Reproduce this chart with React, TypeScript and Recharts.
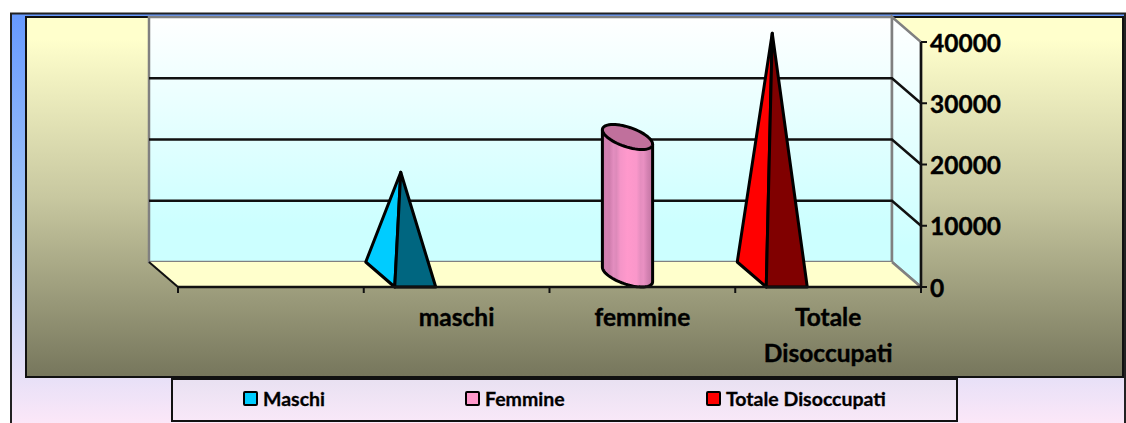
import { Bar, BarChart, CartesianGrid, Legend, XAxis, YAxis } from "recharts";

const categories = ["", "maschi", "femmine", "Totale Disoccupati"];
const maschiValues = [null, 16700, null, null];
const femmineValues = [null, null, 22450, null];
const totaleValues = [null, null, null, 39400];
const yTicks = [0, 10000, 20000, 30000, 40000];

const data = categories.map((name, i) => ({
  name,
  maschi: maschiValues[i],
  femmine: femmineValues[i],
  totale: totaleValues[i],
}));

const WIDTH = 1126;
const HEIGHT = 423;
const LEFT = 178;
const RIGHT = 921;
const TOP = 42;
const BOTTOM = 287;
// depth of the fake 3d box
const DX = 29;
const DY = 25;
const BAND = (RIGHT - LEFT) / categories.length;
const FONT = "Lato, 'Noto Sans', sans-serif";
const legendLefts = [70, 292, 533];

function Backdrop() {
  return (
    <svg width={WIDTH} height={HEIGHT} style={{ position: "absolute", left: 0, top: 0 }}>
      <defs>
        <linearGradient id="frameFill" x1="0" y1="0" x2="0" y2="1">
          <stop offset="0" stopColor="#6699ff" />
          <stop offset="0.5" stopColor="#a6c8f6" />
          <stop offset="0.96" stopColor="#fde8f8" />
        </linearGradient>
        <linearGradient id="panelFill" x1="0" y1="0" x2="0" y2="1">
          <stop offset="0.06" stopColor="#ffffcc" />
          <stop offset="0.5" stopColor="#c8c8a0" />
          <stop offset="1" stopColor="#76765c" />
        </linearGradient>
        <linearGradient id="wallFill" x1="0" y1="0" x2="0" y2="1">
          <stop offset="0" stopColor="#ffffff" />
          <stop offset="0.85" stopColor="#ccffff" />
        </linearGradient>
      </defs>
      <rect x={11} y={13.5} width={1114} height={430} fill="url(#frameFill)" stroke="#222" strokeWidth={2} />
      <rect x={26} y={17} width={1097} height={360} fill="url(#panelFill)" stroke="#111" strokeWidth={2} />
      <rect x={LEFT - DX} y={TOP - DY} width={RIGHT - LEFT} height={BOTTOM - TOP} fill="url(#wallFill)" stroke="#808080" strokeWidth={2.5} />
      <polygon
        points={`${RIGHT - DX},${TOP - DY} ${RIGHT},${TOP} ${RIGHT},${BOTTOM} ${RIGHT - DX},${BOTTOM - DY}`}
        fill="url(#wallFill)"
        stroke="#808080"
        strokeWidth={2.5}
      />
      <polygon
        points={`${LEFT - DX},${BOTTOM - DY} ${RIGHT - DX},${BOTTOM - DY} ${RIGHT},${BOTTOM} ${LEFT},${BOTTOM}`}
        fill="#ffffcc"
      />
      <line x1={RIGHT - DX} y1={BOTTOM - DY} x2={RIGHT} y2={BOTTOM} stroke="#808080" strokeWidth={2.5} />
      <line x1={LEFT - DX} y1={BOTTOM - DY} x2={LEFT} y2={BOTTOM} stroke="#111" strokeWidth={2} />
    </svg>
  );
}

function WallLine(props: any) {
  const { x1, x2, y1 } = props;
  if (Math.abs(y1 - TOP) < 1 || Math.abs(y1 - BOTTOM) < 1) return <g />;
  return (
    <polyline
      points={`${x1 - DX},${y1 - DY} ${x2 - DX},${y1 - DY} ${x2},${y1}`}
      fill="none"
      stroke="#111"
      strokeWidth={2.5}
    />
  );
}

function Pyramid(props: any) {
  const { x, y, width, height, fill, dark, shift } = props;
  if (!height) return null;
  const left = x + shift;
  const right = left + width;
  const apexX = left + width / 2 - DX / 2;
  const apexY = y - DY / 2;
  const base = y + height;
  return (
    <g stroke="#000" strokeWidth={3} strokeLinejoin="round">
      <polygon points={`${left - DX},${base - DY} ${left},${base} ${apexX},${apexY}`} fill={fill} />
      <polygon points={`${left},${base} ${right},${base} ${apexX},${apexY}`} fill={dark} />
    </g>
  );
}

function Cylinder(props: any) {
  const { x, y, width, height } = props;
  if (!height) return null;
  const ux = width / 2;
  const vx = DX / 2;
  const vy = DY / 2;
  const cx = x + width / 2 - DX / 2;
  const base = y + height - DY / 2;
  const top = y - DY / 2;
  // silhouette of the sheared circle: x extreme is at atan2(vx, ux)
  const t0 = Math.atan2(vx, ux);
  const pts: string[] = [];
  for (let i = 0; i <= 40; i++) {
    const t = t0 + (i / 40) * Math.PI;
    pts.push(`${cx + ux * Math.cos(t) + vx * Math.sin(t)},${base + vy * Math.sin(t)}`);
  }
  const rim: string[] = [];
  for (let i = 0; i < 60; i++) {
    const t = (i / 60) * 2 * Math.PI;
    rim.push(`${cx + ux * Math.cos(t) + vx * Math.sin(t)},${top + vy * Math.sin(t)}`);
  }
  const xr = cx + ux * Math.cos(t0) + vx * Math.sin(t0);
  const yr = vy * Math.sin(t0);
  return (
    <g stroke="#000" strokeWidth={3} strokeLinejoin="round">
      <polygon
        points={`${xr},${top + yr} ${pts.join(" ")} ${2 * cx - xr},${top - yr}`}
        fill="url(#pinkBody)"
      />
      <polygon points={rim.join(" ")} fill="#c0709c" />
    </g>
  );
}

function CategoryTick(props: any) {
  const { x, index, payload } = props;
  const words = String(payload.value).split(" ").filter(Boolean);
  const edge = x - BAND / 2;
  return (
    <g>
      <line x1={edge} y1={BOTTOM} x2={edge} y2={BOTTOM + 6} stroke="#111" strokeWidth={2} />
      {index === categories.length - 1 ? (
        <line x1={edge + BAND} y1={BOTTOM} x2={edge + BAND} y2={BOTTOM + 6} stroke="#111" strokeWidth={2} />
      ) : null}
      {words.map((word, i) => (
        <text
          key={word}
          x={x}
          y={BOTTOM + 39 + i * 36}
          textAnchor="middle"
          fontFamily={FONT}
          fontWeight={700}
          fontSize={24.5}
          fill="#000"
          stroke="#000"
          strokeWidth={0.4}
        >
          {word}
        </text>
      ))}
    </g>
  );
}

function LegendBox(props: any) {
  const { payload } = props;
  return (
    <div
      style={{
        position: "relative",
        width: 783,
        height: 40,
        border: "2px solid #111",
        background: "linear-gradient(#e9e1f2, #f8e8f8)",
        fontFamily: FONT,
        fontWeight: 700,
        fontSize: 19.5,
        color: "#000",
        WebkitTextStroke: "0.3px #000",
      }}
    >
      {(payload ?? []).map((entry: any, i: number) => (
        <div
          key={entry.value}
          style={{ position: "absolute", left: legendLefts[i], top: 7, display: "flex", alignItems: "center", whiteSpace: "nowrap" }}
        >
          <span
            style={{
              display: "inline-block",
              width: 11,
              height: 11,
              marginRight: 5,
              background: entry.color,
              border: "2px solid #000",
              borderRadius: 2,
            }}
          />
          {entry.value}
        </div>
      ))}
    </div>
  );
}

export default function App() {
  return (
    <div style={{ position: "absolute", left: 0, top: 0, width: WIDTH, height: HEIGHT, overflow: "hidden", background: "#fff" }}>
      <Backdrop />
      <div style={{ position: "absolute", left: 0, top: 0 }}>
        <BarChart
          width={WIDTH}
          height={HEIGHT}
          data={data}
          barSize={41}
          margin={{ top: TOP, left: LEFT, right: 0, bottom: HEIGHT - BOTTOM - 100 }}
        >
          <defs>
            <linearGradient id="pinkBody" x1="0" y1="0" x2="1" y2="0">
              <stop offset="0" stopColor="#c877a6" />
              <stop offset="0.08" stopColor="#d27fb0" />
              <stop offset="0.14" stopColor="#cf7dad" />
              <stop offset="0.22" stopColor="#e38dbf" />
              <stop offset="0.28" stopColor="#dd8aba" />
              <stop offset="0.36" stopColor="#f595c8" />
              <stop offset="0.5" stopColor="#ff99cc" />
              <stop offset="0.68" stopColor="#fa97ca" />
              <stop offset="0.76" stopColor="#e58ebf" />
              <stop offset="0.82" stopColor="#e990c2" />
              <stop offset="0.9" stopColor="#d482b2" />
              <stop offset="1" stopColor="#c275a2" />
            </linearGradient>
          </defs>
          <CartesianGrid vertical={false} horizontal={WallLine} stroke="#111" />
          <XAxis
            dataKey="name"
            height={100}
            interval={0}
            tickLine={false}
            axisLine={{ stroke: "#111", strokeWidth: 2.5 }}
            tick={CategoryTick}
          />
          <YAxis
            orientation="right"
            width={205}
            domain={[0, 40000]}
            ticks={yTicks}
            interval={0}
            tickSize={6}
            tickMargin={3}
            axisLine={{ stroke: "#111", strokeWidth: 2.5 }}
            tickLine={{ stroke: "#111", strokeWidth: 2 }}
            tick={{ fontFamily: FONT, fontWeight: 700, fontSize: 24.5, fill: "#000", stroke: "#000", strokeWidth: 0.4, dy: 1 }}
          />
          <Bar
            dataKey="maschi"
            name="Maschi"
            stackId="a"
            fill="#00ccff"
            isAnimationActive={false}
            shape={(p: any) => <Pyramid {...p} dark="#006680" shift={-41} />}
          />
          <Bar
            dataKey="femmine"
            name="Femmine"
            stackId="a"
            fill="#ff99cc"
            isAnimationActive={false}
            shape={(p: any) => <Cylinder {...p} />}
          />
          <Bar
            dataKey="totale"
            name="Totale Disoccupati"
            stackId="a"
            fill="#ff0000"
            isAnimationActive={false}
            shape={(p: any) => <Pyramid {...p} dark="#800000" shift={-41} />}
          />
          <Legend
            layout="horizontal"
            align="center"
            verticalAlign="middle"
            itemSorter={null}
            content={LegendBox}
            wrapperStyle={{ position: "absolute", left: 171, top: 378, width: 787, height: 44 }}
          />
        </BarChart>
      </div>
    </div>
  );
}
